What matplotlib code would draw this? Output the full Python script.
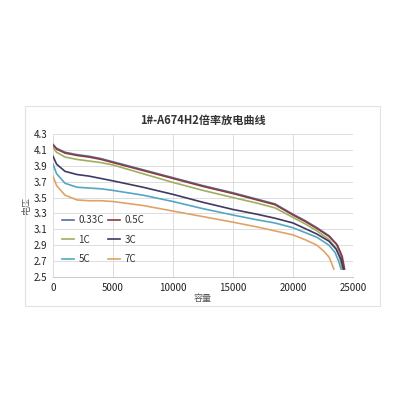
import matplotlib
matplotlib.use("Agg")
import matplotlib.pyplot as plt
from matplotlib.patches import Rectangle

plt.rcParams['font.family'] = ['Noto Sans CJK SC', 'DejaVu Sans']

title = "1#-A674H2倍率放电曲线"
xlabel = "容量"
ylabel = "电压"
labels = ["0.33C", "0.5C", "1C", "3C", "5C", "7C"]
colors = ["#55709E", "#8E3B3F", "#9CB060", "#3F3A62", "#55A6C4", "#E0A366"]

x033 = [0, 300, 1000, 2000, 3000, 4000, 5000, 7500, 10000, 12500, 15000, 17000, 18500, 20000, 21000, 22000, 23000, 23600, 24000, 24200]
y033 = [4.17, 4.12, 4.07, 4.04, 4.02, 3.99, 3.95, 3.85, 3.75, 3.65, 3.56, 3.48, 3.42, 3.29, 3.21, 3.12, 3.02, 2.92, 2.78, 2.60]
x05 = [0, 300, 1000, 2000, 3000, 4000, 5000, 7500, 10000, 12500, 15000, 17000, 18500, 20000, 21000, 22000, 23000, 23700, 24100, 24300]
y05 = [4.16, 4.11, 4.06, 4.03, 4.01, 3.98, 3.94, 3.84, 3.74, 3.64, 3.55, 3.47, 3.41, 3.28, 3.20, 3.11, 3.01, 2.90, 2.76, 2.60]
x1 = [0, 300, 1000, 2000, 3000, 4000, 5000, 7500, 10000, 12500, 15000, 17000, 18500, 20000, 21000, 22000, 23000, 23600, 23900, 24100]
y1 = [4.13, 4.07, 4.01, 3.98, 3.96, 3.94, 3.91, 3.80, 3.69, 3.59, 3.50, 3.43, 3.37, 3.25, 3.17, 3.08, 2.97, 2.86, 2.74, 2.60]
x3 = [0, 300, 1000, 2000, 3000, 4000, 5000, 7500, 10000, 12500, 15000, 17000, 18500, 20000, 21000, 22000, 23000, 23600, 24000, 24200]
y3 = [4.02, 3.92, 3.83, 3.79, 3.77, 3.74, 3.71, 3.63, 3.54, 3.44, 3.35, 3.29, 3.24, 3.18, 3.11, 3.04, 2.95, 2.85, 2.72, 2.60]
x5 = [0, 300, 1000, 2000, 3000, 4000, 5000, 7500, 10000, 12500, 15000, 17000, 18500, 20000, 21000, 22000, 23000, 23500, 23800, 24000]
y5 = [3.92, 3.80, 3.68, 3.63, 3.62, 3.61, 3.59, 3.53, 3.45, 3.36, 3.28, 3.22, 3.18, 3.12, 3.06, 3.00, 2.90, 2.81, 2.70, 2.60]
x7 = [0, 300, 1000, 2000, 3000, 4000, 5000, 7500, 10000, 12500, 15000, 17000, 18500, 20000, 21000, 22000, 22600, 23000, 23200, 23400]
y7 = [3.77, 3.65, 3.53, 3.47, 3.46, 3.46, 3.45, 3.40, 3.33, 3.26, 3.19, 3.13, 3.08, 3.03, 2.97, 2.90, 2.82, 2.75, 2.68, 2.60]

xticks = [0, 5000, 10000, 15000, 20000, 25000]
yticks = [2.5, 2.7, 2.9, 3.1, 3.3, 3.5, 3.7, 3.9, 4.1, 4.3]

fig = plt.figure(figsize=(4.16, 4.16), dpi=100)
fig.patches.append(Rectangle((25/416, 1-306/416), 355/416, 200/416, transform=fig.transFigure,
                             fill=False, edgecolor="#E2E2E2", linewidth=0.8))
ax = fig.add_axes([53/416, 1-277/416, 300/416, 143/416])

series = [(x033, y033), (x05, y05), (x1, y1), (x3, y3), (x5, y5), (x7, y7)]
handles = []
for (xs, ys), lab, c in zip(series, labels, colors):
    h, = ax.plot(xs, ys, color=c, linewidth=1.2, label=lab)
    handles.append(h)

ax.set_xlim(0, 25000)
ax.set_ylim(2.5, 4.3)
ax.set_xticks(xticks)
ax.set_yticks(yticks)
ax.set_yticklabels([f"{v:.1f}" for v in yticks])
ax.grid(True, color="#DDDDDD", linewidth=0.7)
ax.set_axisbelow(True)
for s in ["top", "right", "left"]:
    ax.spines[s].set_visible(False)
ax.spines["bottom"].set_color("#CCCCCC")
ax.tick_params(length=0, labelsize=7, colors="#222222", pad=4)

ax.set_title(title, fontsize=8, fontweight="bold", color="#333333", pad=7)
ax.set_xlabel(xlabel, fontsize=6.5, color="#555555", labelpad=1)
ax.set_ylabel(ylabel, fontsize=6.5, color="#555555", labelpad=2)

order = [0, 2, 4, 1, 3, 5]
ax.legend([handles[i] for i in order], [labels[i] for i in order],
          loc="lower left", bbox_to_anchor=(0.0, 0.03), ncol=2, frameon=False, fontsize=7,
          handlelength=1.3, handletextpad=0.4, columnspacing=0.4, labelspacing=0.95,
          labelcolor="#333333")

fig.savefig("out.png", dpi=100, facecolor="white")
